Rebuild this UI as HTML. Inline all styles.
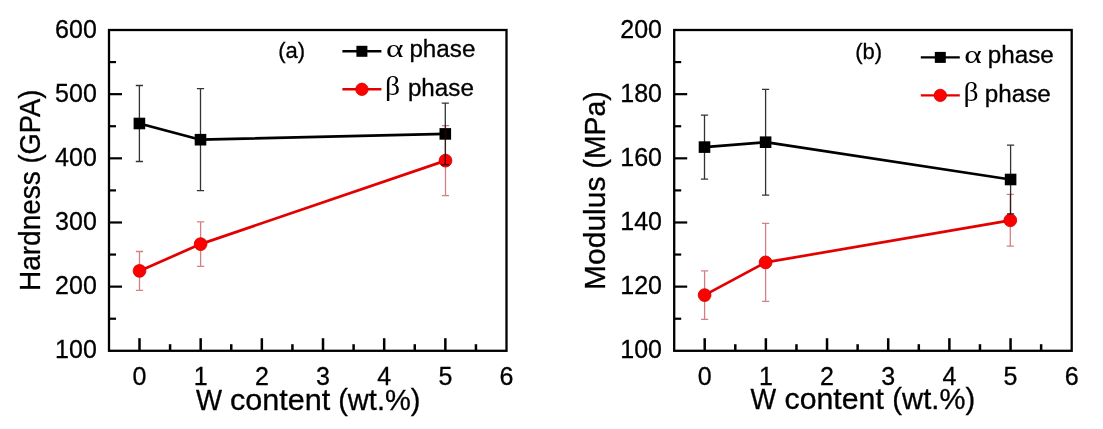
<!DOCTYPE html>
<html><head><meta charset="utf-8"><title>Hardness and Modulus vs W content</title>
<style>
html,body{margin:0;padding:0;background:#fff;width:1103px;height:429px;overflow:hidden}
svg{display:block}
text{font-family:"Liberation Sans", Arial, sans-serif;fill:#000;stroke:#000;stroke-width:0.3px}
text.g{font-family:"Liberation Serif", "Times New Roman", serif;stroke:none}
</style></head>
<body>
<svg width="1103" height="429" viewBox="0 0 1103 429">
<rect width="1103" height="429" fill="#fff"/>
<rect x="109.00" y="30.00" width="397.50" height="320.80" fill="none" stroke="#000" stroke-width="2.3"/>
<line x1="109.00" y1="318.72" x2="116.00" y2="318.72" stroke="#000" stroke-width="2.2"/>
<line x1="109.00" y1="286.64" x2="122.00" y2="286.64" stroke="#000" stroke-width="2.2"/>
<line x1="109.00" y1="254.56" x2="116.00" y2="254.56" stroke="#000" stroke-width="2.2"/>
<line x1="109.00" y1="222.48" x2="122.00" y2="222.48" stroke="#000" stroke-width="2.2"/>
<line x1="109.00" y1="190.40" x2="116.00" y2="190.40" stroke="#000" stroke-width="2.2"/>
<line x1="109.00" y1="158.32" x2="122.00" y2="158.32" stroke="#000" stroke-width="2.2"/>
<line x1="109.00" y1="126.24" x2="116.00" y2="126.24" stroke="#000" stroke-width="2.2"/>
<line x1="109.00" y1="94.16" x2="122.00" y2="94.16" stroke="#000" stroke-width="2.2"/>
<line x1="109.00" y1="62.08" x2="116.00" y2="62.08" stroke="#000" stroke-width="2.2"/>
<line x1="139.50" y1="350.80" x2="139.50" y2="338.20" stroke="#000" stroke-width="2.5"/>
<line x1="170.09" y1="350.80" x2="170.09" y2="344.20" stroke="#000" stroke-width="2.5"/>
<line x1="200.67" y1="350.80" x2="200.67" y2="338.20" stroke="#000" stroke-width="2.5"/>
<line x1="231.25" y1="350.80" x2="231.25" y2="344.20" stroke="#000" stroke-width="2.5"/>
<line x1="261.84" y1="350.80" x2="261.84" y2="338.20" stroke="#000" stroke-width="2.5"/>
<line x1="292.43" y1="350.80" x2="292.43" y2="344.20" stroke="#000" stroke-width="2.5"/>
<line x1="323.01" y1="350.80" x2="323.01" y2="338.20" stroke="#000" stroke-width="2.5"/>
<line x1="353.60" y1="350.80" x2="353.60" y2="344.20" stroke="#000" stroke-width="2.5"/>
<line x1="384.18" y1="350.80" x2="384.18" y2="338.20" stroke="#000" stroke-width="2.5"/>
<line x1="414.76" y1="350.80" x2="414.76" y2="344.20" stroke="#000" stroke-width="2.5"/>
<line x1="445.35" y1="350.80" x2="445.35" y2="338.20" stroke="#000" stroke-width="2.5"/>
<line x1="475.94" y1="350.80" x2="475.94" y2="344.20" stroke="#000" stroke-width="2.5"/>
<text x="96.80" y="37.60" text-anchor="end" font-size="25">600</text>
<text x="96.80" y="101.76" text-anchor="end" font-size="25">500</text>
<text x="96.80" y="165.92" text-anchor="end" font-size="25">400</text>
<text x="96.80" y="230.08" text-anchor="end" font-size="25">300</text>
<text x="96.80" y="294.24" text-anchor="end" font-size="25">200</text>
<text x="96.80" y="358.40" text-anchor="end" font-size="25">100</text>
<text x="139.50" y="384.70" text-anchor="middle" font-size="25">0</text>
<text x="200.67" y="384.70" text-anchor="middle" font-size="25">1</text>
<text x="261.84" y="384.70" text-anchor="middle" font-size="25">2</text>
<text x="323.01" y="384.70" text-anchor="middle" font-size="25">3</text>
<text x="384.18" y="384.70" text-anchor="middle" font-size="25">4</text>
<text x="445.35" y="384.70" text-anchor="middle" font-size="25">5</text>
<text x="506.52" y="384.70" text-anchor="middle" font-size="25">6</text>
<polyline points="139.40,123.50 200.50,139.70 445.30,133.90" fill="none" stroke="#000" stroke-width="2.7" stroke-linejoin="round"/>
<rect x="133.60" y="117.70" width="11.6" height="11.6" fill="#000"/>
<rect x="194.70" y="133.90" width="11.6" height="11.6" fill="#000"/>
<rect x="439.50" y="128.10" width="11.6" height="11.6" fill="#000"/>
<path d="M139.50,251.50V290.30M135.90,251.50H143.10M135.90,290.30H143.10" stroke="rgba(175,25,35,0.55)" stroke-width="1.3" fill="none"/>
<path d="M200.60,221.90V266.30M197.00,221.90H204.20M197.00,266.30H204.20" stroke="rgba(175,25,35,0.55)" stroke-width="1.3" fill="none"/>
<path d="M445.50,125.60V195.60M441.90,125.60H449.10M441.90,195.60H449.10" stroke="rgba(175,25,35,0.55)" stroke-width="1.3" fill="none"/>
<polyline points="139.50,270.90 200.60,244.10 445.50,160.60" fill="none" stroke="#e30000" stroke-width="2.7" stroke-linejoin="round"/>
<circle cx="139.50" cy="270.90" r="6.4" fill="#f00" stroke="#d00000" stroke-width="0.8"/>
<circle cx="200.60" cy="244.10" r="6.4" fill="#f00" stroke="#d00000" stroke-width="0.8"/>
<circle cx="445.50" cy="160.60" r="6.4" fill="#f00" stroke="#d00000" stroke-width="0.8"/>
<path d="M139.40,85.50V161.50M135.80,85.50H143.00M135.80,161.50H143.00" stroke="rgba(0,0,0,0.8)" stroke-width="1.3" fill="none"/>
<path d="M200.50,88.70V190.70M196.90,88.70H204.10M196.90,190.70H204.10" stroke="rgba(0,0,0,0.8)" stroke-width="1.3" fill="none"/>
<path d="M445.30,103.20V164.60M441.70,103.20H448.90M441.70,164.60H448.90" stroke="rgba(0,0,0,0.8)" stroke-width="1.3" fill="none"/>
<text x="278.20" y="57.90" font-size="22">(a)</text>
<line x1="342.40" y1="51.30" x2="381.40" y2="51.30" stroke="#000" stroke-width="2.4"/>
<rect x="356.40" y="45.80" width="11" height="11" fill="#000"/>
<text x="385.90" y="57.10" class="g" font-size="26" textLength="17.5" lengthAdjust="spacingAndGlyphs">α</text>
<text x="409.40" y="57.10" font-size="23" textLength="66" lengthAdjust="spacingAndGlyphs">phase</text>
<line x1="342.40" y1="89.30" x2="381.40" y2="89.30" stroke="#e30000" stroke-width="2.4"/>
<circle cx="361.90" cy="89.30" r="6.2" fill="#f00" stroke="#d00000" stroke-width="0.8"/>
<text x="385.05" y="95.20" class="g" font-size="26.5" textLength="15.1" lengthAdjust="spacingAndGlyphs">β</text>
<text x="407.90" y="95.70" font-size="23" textLength="66" lengthAdjust="spacingAndGlyphs">phase</text>
<text transform="translate(40.30,291.12) rotate(-90)" font-size="29" textLength="120.00" lengthAdjust="spacingAndGlyphs">Hardness</text>
<text transform="translate(40.30,163.50) rotate(-90)" font-size="29" textLength="73.90" lengthAdjust="spacingAndGlyphs">(GPA)</text>
<text x="196.01" y="410.30" font-size="29" textLength="26.05" lengthAdjust="spacingAndGlyphs">W</text>
<text x="229.93" y="410.30" font-size="29" textLength="100.31" lengthAdjust="spacingAndGlyphs">content</text>
<text x="338.20" y="410.30" font-size="29" textLength="82.37" lengthAdjust="spacingAndGlyphs">(wt.%)</text>
<rect x="674.20" y="30.00" width="397.50" height="320.80" fill="none" stroke="#000" stroke-width="2.3"/>
<line x1="674.20" y1="318.72" x2="681.20" y2="318.72" stroke="#000" stroke-width="2.2"/>
<line x1="674.20" y1="286.64" x2="687.20" y2="286.64" stroke="#000" stroke-width="2.2"/>
<line x1="674.20" y1="254.56" x2="681.20" y2="254.56" stroke="#000" stroke-width="2.2"/>
<line x1="674.20" y1="222.48" x2="687.20" y2="222.48" stroke="#000" stroke-width="2.2"/>
<line x1="674.20" y1="190.40" x2="681.20" y2="190.40" stroke="#000" stroke-width="2.2"/>
<line x1="674.20" y1="158.32" x2="687.20" y2="158.32" stroke="#000" stroke-width="2.2"/>
<line x1="674.20" y1="126.24" x2="681.20" y2="126.24" stroke="#000" stroke-width="2.2"/>
<line x1="674.20" y1="94.16" x2="687.20" y2="94.16" stroke="#000" stroke-width="2.2"/>
<line x1="674.20" y1="62.08" x2="681.20" y2="62.08" stroke="#000" stroke-width="2.2"/>
<line x1="704.70" y1="350.80" x2="704.70" y2="338.20" stroke="#000" stroke-width="2.5"/>
<line x1="735.29" y1="350.80" x2="735.29" y2="344.20" stroke="#000" stroke-width="2.5"/>
<line x1="765.87" y1="350.80" x2="765.87" y2="338.20" stroke="#000" stroke-width="2.5"/>
<line x1="796.46" y1="350.80" x2="796.46" y2="344.20" stroke="#000" stroke-width="2.5"/>
<line x1="827.04" y1="350.80" x2="827.04" y2="338.20" stroke="#000" stroke-width="2.5"/>
<line x1="857.62" y1="350.80" x2="857.62" y2="344.20" stroke="#000" stroke-width="2.5"/>
<line x1="888.21" y1="350.80" x2="888.21" y2="338.20" stroke="#000" stroke-width="2.5"/>
<line x1="918.80" y1="350.80" x2="918.80" y2="344.20" stroke="#000" stroke-width="2.5"/>
<line x1="949.38" y1="350.80" x2="949.38" y2="338.20" stroke="#000" stroke-width="2.5"/>
<line x1="979.97" y1="350.80" x2="979.97" y2="344.20" stroke="#000" stroke-width="2.5"/>
<line x1="1010.55" y1="350.80" x2="1010.55" y2="338.20" stroke="#000" stroke-width="2.5"/>
<line x1="1041.13" y1="350.80" x2="1041.13" y2="344.20" stroke="#000" stroke-width="2.5"/>
<text x="662.00" y="37.60" text-anchor="end" font-size="25">200</text>
<text x="662.00" y="101.76" text-anchor="end" font-size="25">180</text>
<text x="662.00" y="165.92" text-anchor="end" font-size="25">160</text>
<text x="662.00" y="230.08" text-anchor="end" font-size="25">140</text>
<text x="662.00" y="294.24" text-anchor="end" font-size="25">120</text>
<text x="662.00" y="358.40" text-anchor="end" font-size="25">100</text>
<text x="704.70" y="384.70" text-anchor="middle" font-size="25">0</text>
<text x="765.87" y="384.70" text-anchor="middle" font-size="25">1</text>
<text x="827.04" y="384.70" text-anchor="middle" font-size="25">2</text>
<text x="888.21" y="384.70" text-anchor="middle" font-size="25">3</text>
<text x="949.38" y="384.70" text-anchor="middle" font-size="25">4</text>
<text x="1010.55" y="384.70" text-anchor="middle" font-size="25">5</text>
<text x="1071.72" y="384.70" text-anchor="middle" font-size="25">6</text>
<polyline points="704.50,147.10 765.60,142.20 1010.60,179.50" fill="none" stroke="#000" stroke-width="2.7" stroke-linejoin="round"/>
<rect x="698.70" y="141.30" width="11.6" height="11.6" fill="#000"/>
<rect x="759.80" y="136.40" width="11.6" height="11.6" fill="#000"/>
<rect x="1004.80" y="173.70" width="11.6" height="11.6" fill="#000"/>
<path d="M704.60,270.80V319.40M701.00,270.80H708.20M701.00,319.40H708.20" stroke="rgba(175,25,35,0.55)" stroke-width="1.3" fill="none"/>
<path d="M765.60,223.40V301.40M762.00,223.40H769.20M762.00,301.40H769.20" stroke="rgba(175,25,35,0.55)" stroke-width="1.3" fill="none"/>
<path d="M1010.30,194.40V246.20M1006.70,194.40H1013.90M1006.70,246.20H1013.90" stroke="rgba(175,25,35,0.55)" stroke-width="1.3" fill="none"/>
<polyline points="704.60,295.10 765.60,262.40 1010.30,220.30" fill="none" stroke="#e30000" stroke-width="2.7" stroke-linejoin="round"/>
<circle cx="704.60" cy="295.10" r="6.4" fill="#f00" stroke="#d00000" stroke-width="0.8"/>
<circle cx="765.60" cy="262.40" r="6.4" fill="#f00" stroke="#d00000" stroke-width="0.8"/>
<circle cx="1010.30" cy="220.30" r="6.4" fill="#f00" stroke="#d00000" stroke-width="0.8"/>
<path d="M704.50,115.10V179.10M700.90,115.10H708.10M700.90,179.10H708.10" stroke="rgba(0,0,0,0.8)" stroke-width="1.3" fill="none"/>
<path d="M765.60,89.30V195.10M762.00,89.30H769.20M762.00,195.10H769.20" stroke="rgba(0,0,0,0.8)" stroke-width="1.3" fill="none"/>
<path d="M1010.60,145.10V213.90M1007.00,145.10H1014.20M1007.00,213.90H1014.20" stroke="rgba(0,0,0,0.8)" stroke-width="1.3" fill="none"/>
<text x="855.20" y="58.80" font-size="22">(b)</text>
<line x1="920.80" y1="57.40" x2="959.80" y2="57.40" stroke="#000" stroke-width="2.4"/>
<rect x="934.80" y="51.90" width="11" height="11" fill="#000"/>
<text x="964.30" y="63.20" class="g" font-size="26" textLength="17.5" lengthAdjust="spacingAndGlyphs">α</text>
<text x="987.80" y="63.20" font-size="23" textLength="66" lengthAdjust="spacingAndGlyphs">phase</text>
<line x1="920.80" y1="95.40" x2="959.80" y2="95.40" stroke="#e30000" stroke-width="2.4"/>
<circle cx="940.30" cy="95.40" r="6.2" fill="#f00" stroke="#d00000" stroke-width="0.8"/>
<text x="963.45" y="101.30" class="g" font-size="26.5" textLength="15.1" lengthAdjust="spacingAndGlyphs">β</text>
<text x="984.80" y="101.80" font-size="23" textLength="66" lengthAdjust="spacingAndGlyphs">phase</text>
<text transform="translate(605.30,289.98) rotate(-90)" font-size="29" textLength="113.43" lengthAdjust="spacingAndGlyphs">Modulus</text>
<text transform="translate(605.30,168.56) rotate(-90)" font-size="29" textLength="77.16" lengthAdjust="spacingAndGlyphs">(MPa)</text>
<text x="750.41" y="408.60" font-size="29" textLength="25.65" lengthAdjust="spacingAndGlyphs">W</text>
<text x="784.55" y="408.60" font-size="29" textLength="99.29" lengthAdjust="spacingAndGlyphs">content</text>
<text x="892.39" y="408.60" font-size="29" textLength="82.78" lengthAdjust="spacingAndGlyphs">(wt.%)</text>
</svg>
</body></html>
